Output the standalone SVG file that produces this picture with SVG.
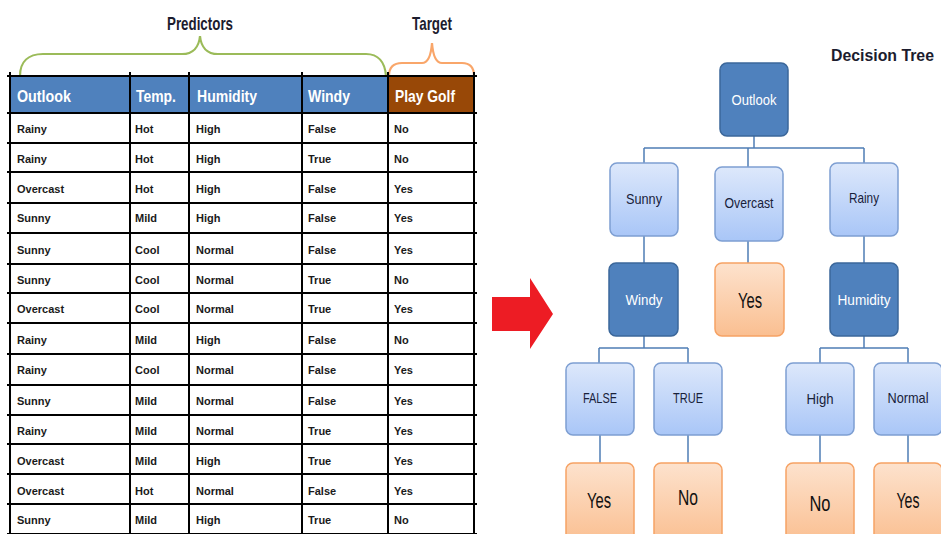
<svg xmlns="http://www.w3.org/2000/svg" width="941" height="534" viewBox="0 0 941 534">
<defs>
<linearGradient id="gBlue" x1="0" y1="0" x2="0" y2="1"><stop offset="0" stop-color="#DDE8FB"/><stop offset="1" stop-color="#A9C6F7"/></linearGradient>
<linearGradient id="gOrange" x1="0" y1="0" x2="0" y2="1"><stop offset="0" stop-color="#FDE2CD"/><stop offset="1" stop-color="#FABF91"/></linearGradient>
<style>
.cell{font-family:"Liberation Sans",Arial,sans-serif;font-weight:bold;font-size:11px;fill:#1a1a1a}
.hdr{font-family:"Liberation Sans",Arial,sans-serif;font-weight:bold;font-size:17px;fill:#ffffff}
.grid{stroke:#000;stroke-width:2;fill:none}
.title{font-family:"Liberation Sans",Arial,sans-serif;font-weight:bold;font-size:19px;fill:#1c1c2e}
.dark rect{fill:#4F81BD;stroke:#3B679A;stroke-width:1.5}
.light rect{fill:url(#gBlue);stroke:#7E9FD2;stroke-width:1.5}
.leaf rect{fill:url(#gOrange);stroke:#F6A264;stroke-width:1.5}
.dark text{font-family:"Liberation Sans",Arial,sans-serif;font-size:15px;fill:#ffffff;text-anchor:middle}
.light text{font-family:"Liberation Sans",Arial,sans-serif;font-size:15px;fill:#18213A;text-anchor:middle}
.leaf text{font-family:"Liberation Sans",Arial,sans-serif;font-size:22px;fill:#111111;text-anchor:middle}
.conn{stroke:#4F7DB5;stroke-width:1.5;fill:none}
</style>
</defs>
<rect width="941" height="534" fill="#ffffff"/>

<g id="labels">
<text class="title" x="167" y="30" textLength="66" lengthAdjust="spacingAndGlyphs">Predictors</text>
<text class="title" x="412" y="30" textLength="40" lengthAdjust="spacingAndGlyphs">Target</text>
<text class="title" x="831" y="61" style="font-size:16.5px" textLength="103" lengthAdjust="spacingAndGlyphs">Decision Tree</text>
<path d="M20,76 C20,62 28,54 43,54 L182,54 C193,54 199,47 200,36 C201,47 207,54 218,54 L366,54 C378,54 385,62 386,76" fill="none" stroke="#9BBB59" stroke-width="2.2"/>
<path d="M389,76 C389,67 393,63 402,63 L422,63 C428,63 431,56 432,43 C433,56 436,63 442,63 L462,63 C470,63 474,67 474,76" fill="none" stroke="#F9A66A" stroke-width="2.2"/>
</g>

<g id="table">
<rect x="10" y="76" width="378" height="37" fill="#4F81BD"/>
<rect x="388" y="76" width="86" height="37" fill="#984807"/>
<text class="hdr" x="17" y="102" textLength="54" lengthAdjust="spacingAndGlyphs">Outlook</text>
<text class="hdr" x="136" y="102" textLength="40" lengthAdjust="spacingAndGlyphs">Temp.</text>
<text class="hdr" x="197" y="102" textLength="60" lengthAdjust="spacingAndGlyphs">Humidity</text>
<text class="hdr" x="308" y="102" textLength="42" lengthAdjust="spacingAndGlyphs">Windy</text>
<text class="hdr" x="395" y="102" textLength="60" lengthAdjust="spacingAndGlyphs">Play Golf</text>
<path class="grid" d="M7,76H477M7,113H477M7,143H477M7,172H477M7,203H477M7,233H477M7,264H477M7,293H477M7,323H477M7,354H477M7,385H477M7,415H477M7,444H477M7,474H477M7,504H477M7,534H477"/>
<path class="grid" d="M10,72V534M130,72V534M189,72V534M302,72V534M388,72V534M474,72V534"/>
<g>
<text class="cell" x="17" y="133">Rainy</text><text class="cell" x="135" y="133">Hot</text><text class="cell" x="196" y="133">High</text><text class="cell" x="308" y="133">False</text><text class="cell" x="394" y="133">No</text>
<text class="cell" x="17" y="163">Rainy</text><text class="cell" x="135" y="163">Hot</text><text class="cell" x="196" y="163">High</text><text class="cell" x="308" y="163">True</text><text class="cell" x="394" y="163">No</text>
<text class="cell" x="17" y="193">Overcast</text><text class="cell" x="135" y="193">Hot</text><text class="cell" x="196" y="193">High</text><text class="cell" x="308" y="193">False</text><text class="cell" x="394" y="193">Yes</text>
<text class="cell" x="17" y="222">Sunny</text><text class="cell" x="135" y="222">Mild</text><text class="cell" x="196" y="222">High</text><text class="cell" x="308" y="222">False</text><text class="cell" x="394" y="222">Yes</text>
<text class="cell" x="17" y="254">Sunny</text><text class="cell" x="135" y="254">Cool</text><text class="cell" x="196" y="254">Normal</text><text class="cell" x="308" y="254">False</text><text class="cell" x="394" y="254">Yes</text>
<text class="cell" x="17" y="284">Sunny</text><text class="cell" x="135" y="284">Cool</text><text class="cell" x="196" y="284">Normal</text><text class="cell" x="308" y="284">True</text><text class="cell" x="394" y="284">No</text>
<text class="cell" x="17" y="313">Overcast</text><text class="cell" x="135" y="313">Cool</text><text class="cell" x="196" y="313">Normal</text><text class="cell" x="308" y="313">True</text><text class="cell" x="394" y="313">Yes</text>
<text class="cell" x="17" y="344">Rainy</text><text class="cell" x="135" y="344">Mild</text><text class="cell" x="196" y="344">High</text><text class="cell" x="308" y="344">False</text><text class="cell" x="394" y="344">No</text>
<text class="cell" x="17" y="374">Rainy</text><text class="cell" x="135" y="374">Cool</text><text class="cell" x="196" y="374">Normal</text><text class="cell" x="308" y="374">False</text><text class="cell" x="394" y="374">Yes</text>
<text class="cell" x="17" y="405">Sunny</text><text class="cell" x="135" y="405">Mild</text><text class="cell" x="196" y="405">Normal</text><text class="cell" x="308" y="405">False</text><text class="cell" x="394" y="405">Yes</text>
<text class="cell" x="17" y="435">Rainy</text><text class="cell" x="135" y="435">Mild</text><text class="cell" x="196" y="435">Normal</text><text class="cell" x="308" y="435">True</text><text class="cell" x="394" y="435">Yes</text>
<text class="cell" x="17" y="465">Overcast</text><text class="cell" x="135" y="465">Mild</text><text class="cell" x="196" y="465">High</text><text class="cell" x="308" y="465">True</text><text class="cell" x="394" y="465">Yes</text>
<text class="cell" x="17" y="495">Overcast</text><text class="cell" x="135" y="495">Hot</text><text class="cell" x="196" y="495">Normal</text><text class="cell" x="308" y="495">False</text><text class="cell" x="394" y="495">Yes</text>
<text class="cell" x="17" y="524">Sunny</text><text class="cell" x="135" y="524">Mild</text><text class="cell" x="196" y="524">High</text><text class="cell" x="308" y="524">True</text><text class="cell" x="394" y="524">No</text>
</g>
</g>

<g id="arrow">
<polygon points="492,297 530,297 530,278 553,314 530,349 530,331 492,331" fill="#ED1C24"/>
</g>

<g id="connectors" class="conn">
<path d="M754,136V148M644,148H864M644,148V163M748,148V167M864,148V163"/>
<path d="M644,236V263M748,241V263M864,236V263"/>
<path d="M644,336V348M599,348H688M599,348V363M688,348V363"/>
<path d="M864,336V348M820,348H908M820,348V363M908,348V363"/>
<path d="M600,435V463M688,435V463M820,435V463M908,435V463"/>
</g>

<g id="n-outlook" class="dark"><rect x="720" y="63" width="68" height="73" rx="7"/><text x="754" y="105" textLength="45" lengthAdjust="spacingAndGlyphs">Outlook</text></g>
<g id="n-sunny" class="light"><rect x="610" y="163" width="68" height="73" rx="7"/><text x="644" y="204" textLength="36" lengthAdjust="spacingAndGlyphs">Sunny</text></g>
<g id="n-overcast" class="light"><rect x="715" y="167" width="68" height="74" rx="7"/><text x="749" y="208" textLength="49" lengthAdjust="spacingAndGlyphs">Overcast</text></g>
<g id="n-rainy" class="light"><rect x="830" y="163" width="68" height="73" rx="7"/><text x="864" y="203" textLength="30" lengthAdjust="spacingAndGlyphs">Rainy</text></g>
<g id="n-windy" class="dark"><rect x="609" y="263" width="69" height="73" rx="7"/><text x="644" y="305" textLength="37" lengthAdjust="spacingAndGlyphs">Windy</text></g>
<g id="n-yes-overcast" class="leaf"><rect x="715" y="263" width="69" height="73" rx="7"/><text x="750" y="308" textLength="24" lengthAdjust="spacingAndGlyphs">Yes</text></g>
<g id="n-humidity" class="dark"><rect x="830" y="263" width="68" height="73" rx="7"/><text x="864" y="305" textLength="53" lengthAdjust="spacingAndGlyphs">Humidity</text></g>
<g id="n-false" class="light"><rect x="566" y="363" width="68" height="72" rx="7"/><text x="600" y="403" textLength="34" lengthAdjust="spacingAndGlyphs">FALSE</text></g>
<g id="n-true" class="light"><rect x="654" y="363" width="68" height="72" rx="7"/><text x="688" y="403" textLength="30" lengthAdjust="spacingAndGlyphs">TRUE</text></g>
<g id="n-high" class="light"><rect x="786" y="363" width="68" height="72" rx="7"/><text x="820" y="404" textLength="27" lengthAdjust="spacingAndGlyphs">High</text></g>
<g id="n-normal" class="light"><rect x="874" y="363" width="68" height="72" rx="7"/><text x="908" y="403" textLength="41" lengthAdjust="spacingAndGlyphs">Normal</text></g>
<g id="n-yes-false" class="leaf"><rect x="566" y="463" width="68" height="80" rx="7"/><text x="599" y="508" textLength="24" lengthAdjust="spacingAndGlyphs">Yes</text></g>
<g id="n-no-true" class="leaf"><rect x="654" y="463" width="68" height="80" rx="7"/><text x="688" y="505" textLength="20" lengthAdjust="spacingAndGlyphs">No</text></g>
<g id="n-no-high" class="leaf"><rect x="786" y="463" width="68" height="80" rx="7"/><text x="820" y="511" textLength="21" lengthAdjust="spacingAndGlyphs">No</text></g>
<g id="n-yes-normal" class="leaf"><rect x="874" y="463" width="68" height="80" rx="7"/><text x="908" y="508" textLength="23" lengthAdjust="spacingAndGlyphs">Yes</text></g>
</svg>
